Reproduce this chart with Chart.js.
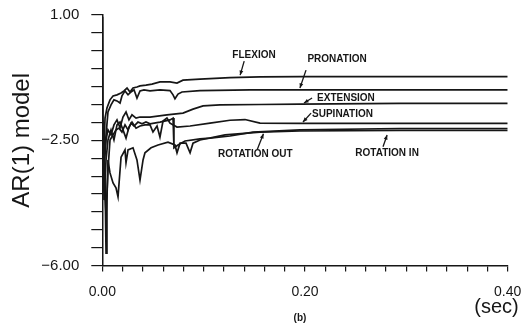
<!DOCTYPE html>
<html>
<head>
<meta charset="utf-8">
<script src="https://cdn.jsdelivr.net/npm/chart.js@4"></script>
<style>
  body { margin: 0; background: #fff; }
  #chart { display: block; }
</style>
</head>
<body>
<canvas id="chart" width="521" height="327"></canvas>
<script>
// time axis (sec) and AR(1) model values
const flexionT = [0.0003, 0.0007, 0.0017, 0.0027, 0.0046, 0.0076, 0.0106, 0.0145, 0.0185, 0.0214, 0.0244, 0.0273, 0.0303, 0.0342, 0.0372, 0.0431, 0.0490, 0.0569, 0.0668, 0.0737, 0.0796, 0.0964, 0.126, 0.1556, 0.1951, 0.2938, 0.4];
const flexionV = [0.95, -2.07, -2.63, -1.88, -1.60, -1.37, -1.26, -1.23, -1.18, -1.12, -1.04, -1.15, -1.04, -1.01, -0.98, -0.96, -0.93, -0.87, -0.87, -0.90, -0.82, -0.79, -0.75, -0.73, -0.72, -0.72, -0.72];

const pronationT = [0.0007, 0.0017, 0.0037, 0.0056, 0.0086, 0.0115, 0.0145, 0.0175, 0.0194, 0.0224, 0.0254, 0.0283, 0.0313, 0.0342, 0.0372, 0.0411, 0.0471, 0.0569, 0.0668, 0.0698, 0.0717, 0.0747, 0.0786, 0.0964, 0.1457, 0.1951, 0.4];
const pronationV = [-2.21, -3.05, -2.35, -1.71, -1.51, -1.37, -1.40, -1.46, -1.26, -1.12, -1.23, -1.15, -1.09, -1.32, -1.12, -1.09, -1.12, -1.09, -1.11, -1.23, -1.34, -1.21, -1.15, -1.11, -1.09, -1.09, -1.09];

const extensionT = [0.0007, 0.0017, 0.0037, 0.0056, 0.0086, 0.0115, 0.0145, 0.0175, 0.0204, 0.0234, 0.0263, 0.0293, 0.0333, 0.0372, 0.0471, 0.0638, 0.0796, 0.0895, 0.0994, 0.1161, 0.1556, 0.1951, 0.2938, 0.4];
const extensionV = [-1.93, -3.33, -2.49, -2.21, -2.35, -2.07, -1.93, -2.15, -1.85, -1.71, -1.93, -1.79, -1.88, -1.85, -1.85, -1.79, -1.74, -1.63, -1.54, -1.51, -1.50, -1.49, -1.47, -1.47];

const supinationT = [0.0007, 0.0017, 0.0037, 0.0056, 0.0086, 0.0115, 0.0145, 0.0175, 0.0204, 0.0234, 0.0263, 0.0293, 0.0333, 0.0372, 0.0421, 0.0471, 0.050, 0.054, 0.0569, 0.0599, 0.0638, 0.0668, 0.0737, 0.0866, 0.1063, 0.126, 0.1408, 0.1556, 0.1951, 0.4];
const supinationV = [-2.35, -4.17, -3.05, -2.49, -2.21, -2.49, -2.07, -1.99, -2.21, -2.44, -2.13, -1.99, -2.16, -2.10, -2.07, -2.07, -2.27, -2.10, -2.41, -1.96, -1.88, -2.02, -2.13, -2.10, -2.02, -1.94, -1.92, -2.02, -2.03, -2.03];

const rotOutT = [0.0007, 0.0017, 0.0037, 0.0056, 0.0076, 0.0106, 0.0135, 0.0165, 0.0194, 0.0224, 0.0254, 0.0283, 0.0313, 0.0352, 0.0392, 0.0431, 0.0471, 0.0569, 0.0668, 0.0698, 0.0707, 0.0747, 0.0816, 0.0964, 0.1063, 0.126, 0.1487, 0.1951, 0.2938, 0.4];
const rotOutV = [-2.15, -3.47, -4.59, -3.33, -2.49, -2.35, -2.21, -2.16, -2.27, -2.07, -2.21, -2.02, -2.10, -1.99, -2.04, -1.99, -2.04, -1.99, -1.93, -1.88, -2.71, -2.63, -2.52, -2.46, -2.44, -2.38, -2.27, -2.21, -2.17, -2.17];

const rotInT = [0.0007, 0.0027, 0.0037, 0.0046, 0.0056, 0.0076, 0.0106, 0.0135, 0.0155, 0.0185, 0.0224, 0.0234, 0.0254, 0.0303, 0.0342, 0.0372, 0.0402, 0.0421, 0.0481, 0.055, 0.0648, 0.0717, 0.0737, 0.0767, 0.0826, 0.0866, 0.0895, 0.0964, 0.1211, 0.1556, 0.1951, 0.2938, 0.4];
const rotInV = [-2.21, -3.61, -5.65, -4.17, -3.05, -3.41, -3.69, -3.83, -4.08, -2.97, -2.77, -3.13, -2.77, -2.71, -3.05, -3.61, -3.05, -2.85, -2.71, -2.63, -2.55, -2.63, -2.85, -2.58, -2.58, -2.85, -2.58, -2.49, -2.35, -2.27, -2.24, -2.225, -2.225];

const seriesNames = ['FLEXION', 'PRONATION', 'EXTENSION', 'SUPINATION', 'ROTATION OUT', 'ROTATION IN'];
const seriesT = [flexionT, pronationT, extensionT, supinationT, rotOutT, rotInT];
const seriesV = [flexionV, pronationV, extensionV, supinationV, rotOutV, rotInV];

const xTickValues = [0, 0.2, 0.4];
const xTickLabels = ['0.00', '0.20', '0.40'];
const yTickValues = [1, -2.5, -6];
const yTickLabels = ['1.00', '\u22122.50', '\u22126.00'];

// where each curve label sits (sec, value) and the little pointer arrow
const labelAt = [[0.1497, -0.12], [0.2316, -0.24], [0.2404, -1.33], [0.2370, -1.78], [0.151, -2.88], [0.281, -2.86]];
const arrowFrom = [[0.140, -0.29], [0.201, -0.54], [0.207, -1.32], [0.206, -1.74], [0.153, -2.75], [0.277, -2.68]];
const arrowTo = [[0.136, -0.68], [0.195, -1.04], [0.199, -1.46], [0.198, -1.99], [0.159, -2.32], [0.281, -2.35]];

const INK = '#161616';

const datasets = seriesNames.map((name, i) => ({
    label: name,
    data: seriesT[i].map((t, j) => ({ x: t, y: seriesV[i][j] })),
    borderColor: INK,
    borderWidth: 1.7,
    pointRadius: 0,
    fill: false,
    tension: 0
}));

function findLabel(value, values, labels) {
    for (let i = 0; i < values.length; i++) {
        if (Math.abs(value - values[i]) < 1e-6) return labels[i];
    }
    return '';
}

const annotations = {
    id: 'annotations',
    afterDatasetsDraw(chart) {
        const ctx = chart.ctx;
        const xs = chart.scales.x;
        const ys = chart.scales.y;
        ctx.save();
        ctx.fillStyle = INK;
        ctx.strokeStyle = INK;
        ctx.lineWidth = 1.3;
        ctx.font = 'bold 10px "Liberation Sans", Arial, sans-serif';
        ctx.textAlign = 'center';
        ctx.textBaseline = 'middle';
        for (let i = 0; i < seriesNames.length; i++) {
            const lx = xs.getPixelForValue(labelAt[i][0]);
            const ly = ys.getPixelForValue(labelAt[i][1]);
            ctx.fillText(seriesNames[i], lx, ly);

            const x1 = xs.getPixelForValue(arrowFrom[i][0]);
            const y1 = ys.getPixelForValue(arrowFrom[i][1]);
            const x2 = xs.getPixelForValue(arrowTo[i][0]);
            const y2 = ys.getPixelForValue(arrowTo[i][1]);
            ctx.beginPath();
            ctx.moveTo(x1, y1);
            ctx.lineTo(x2, y2);
            ctx.stroke();
            // small arrow head
            const a = Math.atan2(y2 - y1, x2 - x1);
            ctx.beginPath();
            ctx.moveTo(x2, y2);
            ctx.lineTo(x2 - 5 * Math.cos(a - 0.4), y2 - 5 * Math.sin(a - 0.4));
            ctx.lineTo(x2 - 5 * Math.cos(a + 0.4), y2 - 5 * Math.sin(a + 0.4));
            ctx.closePath();
            ctx.fill();
        }

        // unit and panel caption
        const area = chart.chartArea;
        ctx.textAlign = 'right';
        ctx.font = '20px "Liberation Sans", Arial, sans-serif';
        ctx.fillText('(sec)', area.right + 11, 307);
        ctx.textAlign = 'center';
        ctx.font = 'bold 10px "Liberation Sans", Arial, sans-serif';
        ctx.fillText('(b)', xs.getPixelForValue(0.195), 318);
        ctx.restore();
    }
};

new Chart(document.getElementById('chart'), {
    type: 'line',
    data: { datasets: datasets },
    options: {
        responsive: false,
        animation: false,
        devicePixelRatio: 1,
        layout: { padding: { left: 4, top: 15, right: 13.3, bottom: 0 } },
        plugins: {
            legend: { display: false },
            tooltip: { enabled: false }
        },
        scales: {
            x: {
                type: 'linear',
                min: 0,
                max: 0.4,
                afterFit: (s) => { s.height = 61.4; s.paddingLeft = 0; s.paddingRight = 0; },
                border: { display: true, color: INK, width: 1.5 },
                grid: { drawOnChartArea: false, drawTicks: true, tickLength: 6, color: INK, lineWidth: 1.2 },
                ticks: {
                    stepSize: 0.02,
                    autoSkip: false,
                    maxRotation: 0,
                    padding: 12,
                    color: INK,
                    font: { family: '"Liberation Sans", Arial, sans-serif', size: 14 },
                    callback: (value) => findLabel(value, xTickValues, xTickLabels)
                }
            },
            y: {
                type: 'linear',
                min: -6,
                max: 1,
                afterFit: (s) => { s.width = 98.3; s.paddingTop = 0; s.paddingBottom = 0; },
                border: { display: true, color: INK, width: 1.5 },
                grid: { drawOnChartArea: false, drawTicks: true, tickLength: 11, color: INK, lineWidth: 1.2 },
                ticks: {
                    stepSize: 0.5,
                    autoSkip: false,
                    padding: 12,
                    color: INK,
                    font: { family: '"Liberation Sans", Arial, sans-serif', size: 15 },
                    callback: (value) => findLabel(value, yTickValues, yTickLabels)
                },
                title: {
                    display: true,
                    text: 'AR(1) model',
                    color: INK,
                    padding: { top: 4, bottom: 0 },
                    font: { family: '"Liberation Sans", Arial, sans-serif', size: 24 }
                }
            }
        }
    },
    plugins: [annotations]
});
</script>
</body>
</html>
